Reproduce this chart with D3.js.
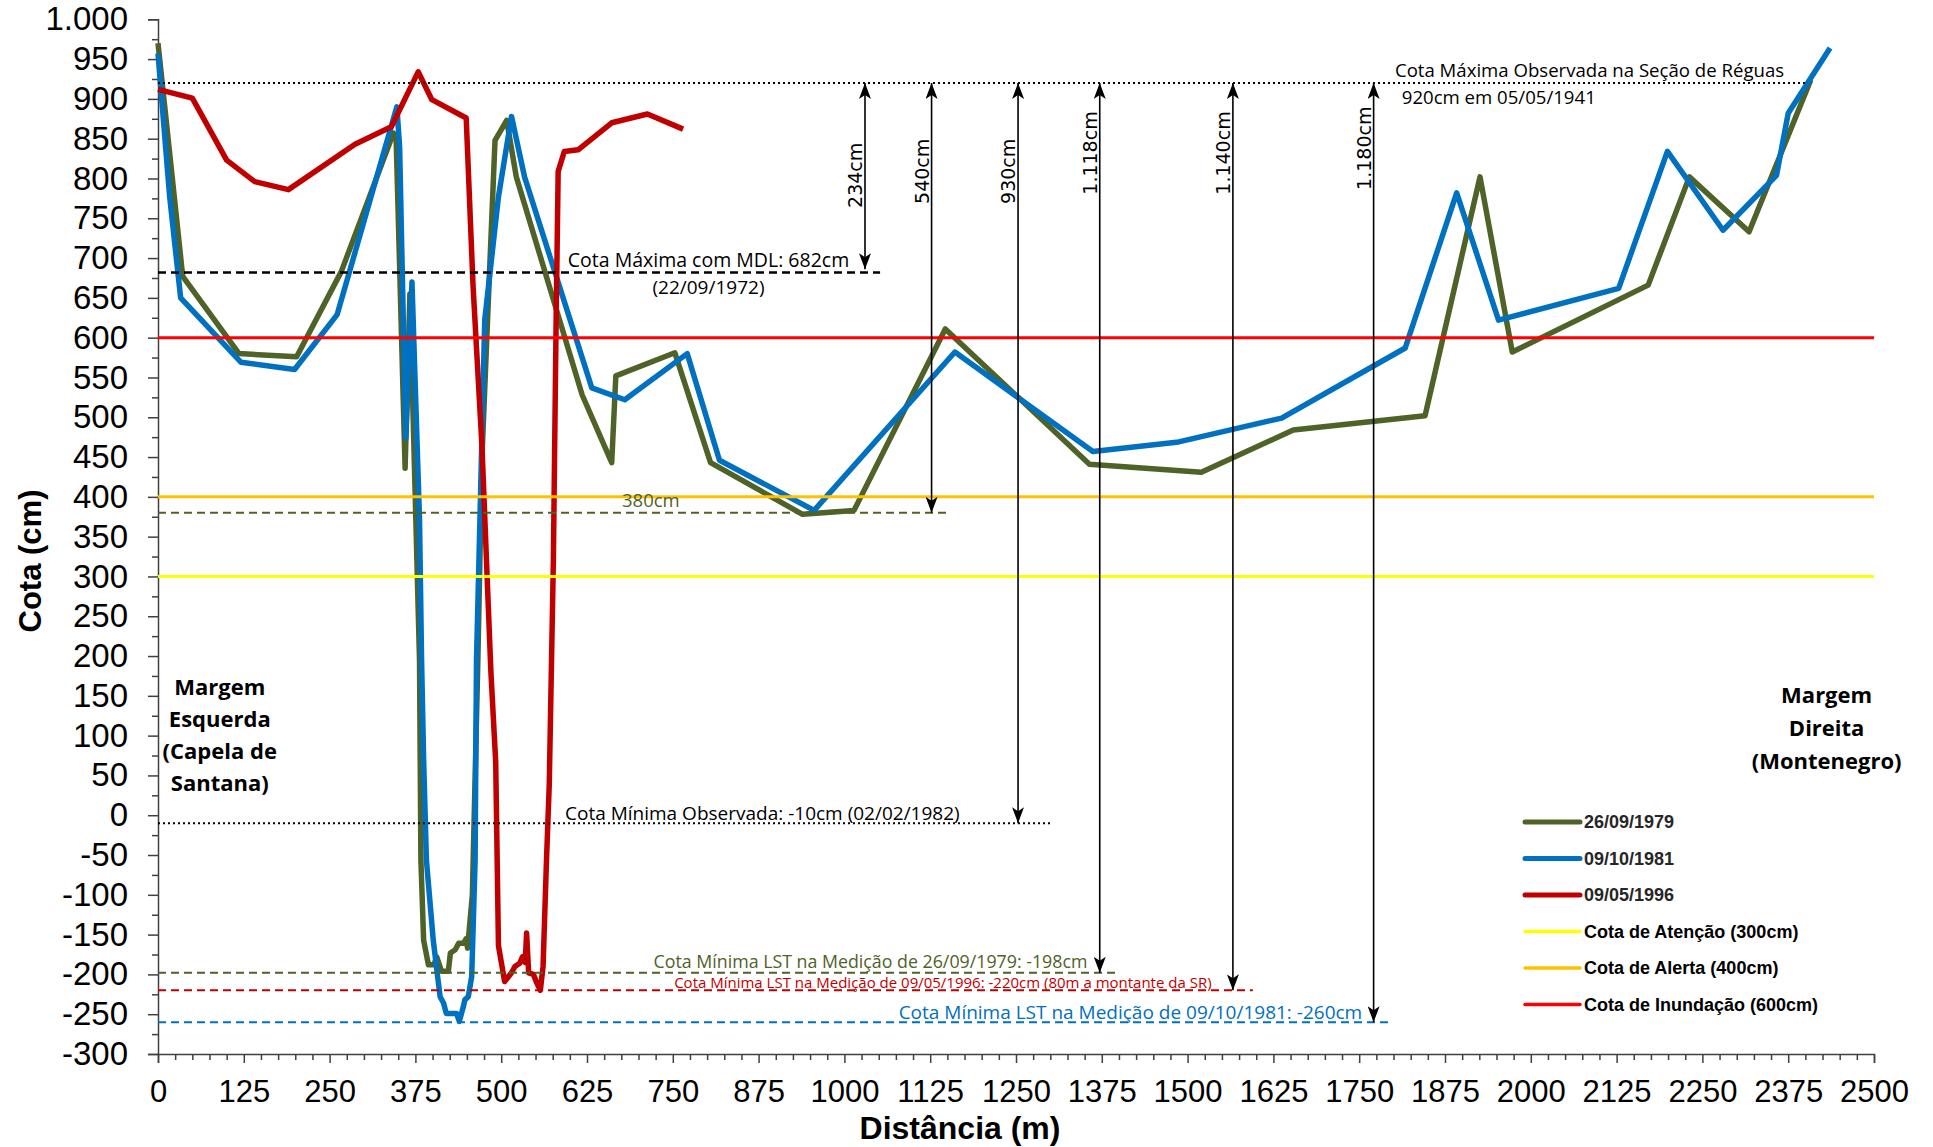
<!DOCTYPE html>
<html>
<head>
<meta charset="utf-8">
<script src="https://cdn.jsdelivr.net/npm/d3@7"></script>
<style>
  body { margin: 0; background: #fff; }
  svg { display: block; }
</style>
</head>
<body>
<div id="chart"></div>
<script>
// perfis transversais: [distância (m), cota (cm)]
const perfil1979 = [[0,970],[36,677],[118,580],[202,576],[267,683],[343,857],[347,848],[360,436],[367,655],[381,195],[383,-56],[387,-157],[394,-188],[402,-188],[406,-178],[413,-196],[423,-196],[426,-173],[433,-169],[438,-161],[445,-161],[449,-155],[451,-167],[458,-100],[466,195],[472,450],[480,620],[491,848],[508,873],[522,802],[618,528],[661,443],[667,552],[753,581],[805,443],[939,378],[1014,383],[1147,611],[1357,441],[1520,431],[1654,484],[1846,502],[1926,802],[1973,582],[2171,666],[2231,802],[2318,733],[2408,924]];
const perfil1981 = [[0,957],[17,777],[33,650],[121,569],[199,560],[261,629],[348,890],[352,840],[361,474],[370,670],[381,371],[384,195],[387,70],[391,-56],[401,-157],[408,-207],[411,-228],[416,-236],[420,-249],[435,-249],[439,-259],[445,-240],[447,-232],[452,-228],[457,-203],[462,-56],[464,195],[469,371],[476,622],[496,777],[515,878],[534,802],[632,537],[680,522],[771,580],[818,446],[956,383],[1161,582],[1362,457],[1487,469],[1637,499],[1817,587],[1892,782],[1953,622],[2128,662],[2199,834],[2280,735],[2358,804],[2375,882],[2436,964]];
const perfil1996 = [[0,912],[50,901],[100,823],[141,796],[190,786],[287,843],[340,865],[379,934],[399,899],[449,876],[459,665],[472,463],[485,180],[492,67],[496,-164],[505,-209],[515,-198],[520,-190],[527,-186],[531,-178],[535,-185],[537,-148],[540,-198],[547,-200],[552,-211],[557,-220],[561,-190],[566,-56],[570,38],[576,320],[580,620],[583,809],[592,834],[612,836],[661,870],[713,881],[765,862]];

const serieNomes = ["26/09/1979", "09/10/1981", "09/05/1996"];
const serieCores = ["#4f6228", "#0070c0", "#c00000"];

const cotaNomes = ["Cota de Atenção (300cm)", "Cota de Alerta (400cm)", "Cota de Inundação (600cm)"];
const cotaValores = [300, 400, 600];
const cotaCores = ["#ffff00", "#ffc000", "#ff0000"];

// linhas de referência: cota, até onde vai (m)
const refCotas = [920, 682, 380, -10, -198, -220, -260];
const refFim = [2400, 1052, 1152, 1302, 1400, 1595, 1796];

// setas: distância (m), cota de chegada, texto
const setaDist = [1030, 1127, 1253, 1372, 1566, 1771];
const setaAte = [686, 380, -10, -198, -220, -260];
const setaTextos = ["234cm", "540cm", "930cm", "1.118cm", "1.140cm", "1.180cm"];
const setaTextoCota = [804, 809, 809, 832, 832, 838];

const width = 1933, height = 1147,
      margin = ({ top: 19.3, right: 59, bottom: 93, left: 158 });

const svg = d3.select("#chart")
  .append("svg")
  .attr("width", width)
  .attr("height", height)
  .attr("viewBox", [0, 0, width, height]);

let x = d3.scaleLinear()
  .domain([0, 2500])
  .range([margin.left, width - margin.right]);

let y = d3.scaleLinear()
  .domain([-300, 1000])
  .range([height - margin.bottom, margin.top]);

const ptBR = d3.formatLocale({ decimal: ",", thousands: ".", grouping: [3], currency: ["", ""], minus: "-" });

const tickFont = "'Liberation Sans', Arial, sans-serif";
const noteFont = "'Open Sans', 'Noto Sans', sans-serif";

// eixo y (ticks maiores e menores)
svg.append("g")
  .attr("transform", `translate(${margin.left},0)`)
  .call(d3.axisLeft(y)
    .tickValues(d3.range(-275, 1000, 50))
    .tickSize(6)
    .tickFormat(""))
  .call(g => g.select(".domain").remove());

const yAxis = svg.append("g")
  .attr("transform", `translate(${margin.left},0)`)
  .call(d3.axisLeft(y)
    .tickValues(d3.range(-300, 1001, 50))
    .tickSize(10)
    .tickPadding(20)
    .tickFormat(ptBR.format(",d")));
yAxis.selectAll("text").attr("font-size", 33);

// eixo x
svg.append("g")
  .attr("transform", `translate(0,${height - margin.bottom})`)
  .call(d3.axisBottom(x)
    .tickValues(d3.range(25, 2500, 25).filter(d => d % 125 !== 0))
    .tickSize(6)
    .tickFormat(""))
  .call(g => g.select(".domain").remove());

const xAxis = svg.append("g")
  .attr("transform", `translate(0,${height - margin.bottom})`)
  .call(d3.axisBottom(x)
    .tickValues(d3.range(0, 2501, 125))
    .tickSize(9)
    .tickPadding(17)
    .tickFormat(d3.format("d")));
xAxis.selectAll("text").attr("font-size", 31);

svg.selectAll(".tick line, .domain").attr("stroke", "#404040").attr("stroke-width", 1.5);
svg.selectAll(".tick text")
  .attr("font-family", tickFont)
  .attr("fill", "#000");

// títulos dos eixos
svg.append("text")
  .attr("transform", `translate(41,561) rotate(-90)`)
  .attr("text-anchor", "middle")
  .attr("font-family", tickFont)
  .attr("font-weight", "bold")
  .attr("font-size", 31)
  .text("Cota (cm)");

svg.append("text")
  .attr("x", 960)
  .attr("y", 1139)
  .attr("text-anchor", "middle")
  .attr("font-family", tickFont)
  .attr("font-weight", "bold")
  .attr("font-size", 32)
  .text("Distância (m)");

// perfis
let line = d3.line()
  .x(d => x(d[0]))
  .y(d => y(d[1]));

[perfil1979, perfil1981, perfil1996].forEach((p, i) => {
  svg.append("path")
    .datum(p)
    .attr("fill", "none")
    .attr("stroke", serieCores[i])
    .attr("stroke-width", 5.5)
    .attr("stroke-linejoin", "round")
    .attr("d", line);
});

// cotas de atenção / alerta / inundação
cotaValores.forEach((v, i) => {
  svg.append("line")
    .attr("x1", x(0)).attr("x2", x(2500))
    .attr("y1", y(v)).attr("y2", y(v))
    .attr("stroke", cotaCores[i])
    .attr("stroke-width", 3);
});

// linhas de referência
const refEstilo = [
  { cor: "#000", dash: "2,3", w: 2 },
  { cor: "#000", dash: "8,5", w: 2.5 },
  { cor: "#4f6228", dash: "8,5", w: 2 },
  { cor: "#000", dash: "2,3", w: 2 },
  { cor: "#4f6228", dash: "8,5", w: 2 },
  { cor: "#c00000", dash: "8,5", w: 2 },
  { cor: "#0070c0", dash: "8,5", w: 2 }
];
refCotas.forEach((v, i) => {
  svg.append("line")
    .attr("x1", x(0)).attr("x2", x(refFim[i]))
    .attr("y1", y(v)).attr("y2", y(v))
    .attr("stroke", refEstilo[i].cor)
    .attr("stroke-width", refEstilo[i].w)
    .attr("stroke-dasharray", refEstilo[i].dash);
});

// setas
svg.append("defs").append("marker")
  .attr("id", "seta")
  .attr("viewBox", "0 0 16 12")
  .attr("refX", 16).attr("refY", 6)
  .attr("markerWidth", 16).attr("markerHeight", 12)
  .attr("markerUnits", "userSpaceOnUse")
  .attr("orient", "auto-start-reverse")
  .append("path")
  .attr("d", "M0,0 L16,6 L0,12 L4,6 Z")
  .attr("fill", "#000");

setaDist.forEach((d, i) => {
  svg.append("line")
    .attr("x1", x(d)).attr("x2", x(d))
    .attr("y1", y(920)).attr("y2", y(setaAte[i]))
    .attr("stroke", "#000")
    .attr("stroke-width", 1.6)
    .attr("marker-start", "url(#seta)")
    .attr("marker-end", "url(#seta)");
  svg.append("text")
    .attr("transform", `translate(${x(d) - 3},${y(setaTextoCota[i])}) rotate(-90)`)
    .attr("text-anchor", "middle")
    .attr("font-family", "'DejaVu Sans', Verdana, sans-serif")
    .attr("font-size", 19)
    .text(setaTextos[i]);
});

// anotações
function nota(txt, xv, yv, dy, anchor, cor, size) {
  svg.append("text")
    .attr("x", x(xv))
    .attr("y", y(yv) + dy)
    .attr("text-anchor", anchor)
    .attr("font-family", noteFont)
    .attr("font-size", size)
    .attr("fill", cor)
    .text(txt);
}

nota("Cota Máxima Observada na Seção de Réguas", 2369, 920, -6, "end", "#000", 18.6);
nota("920cm em 05/05/1941", 1812, 920, 21, "start", "#000", 18.6);
nota("Cota Máxima com MDL: 682cm", 802, 682, -5, "middle", "#000", 19.5);
nota("(22/09/1972)", 802, 682, 22, "middle", "#000", 19);
nota("380cm", 676, 380, -6, "start", "#4f6228", 18.5);
nota("Cota Mínima Observada: -10cm (02/02/1982)", 593, -10, -3, "start", "#000", 19);
nota("Cota Mínima LST na Medição de 26/09/1979: -198cm", 722, -198, -5, "start", "#4f6228", 17.8);
nota("Cota Mínima LST na Medição de 09/05/1996: -220cm (80m a montante da SR)", 752, -220, -2, "start", "#c00000", 15);
nota("Cota Mínima LST na Medição de 09/10/1981: -260cm", 1079, -260, -3, "start", "#0070c0", 19);

// margens
function margem(linhas, xv, y0, passo) {
  const t = svg.append("text")
    .attr("text-anchor", "middle")
    .attr("font-family", noteFont)
    .attr("font-weight", "bold")
    .attr("font-size", 22)
    .attr("fill", "#000");
  linhas.forEach((l, i) => {
    t.append("tspan").attr("x", x(xv)).attr("y", y0 + i * passo).text(l);
  });
}
margem(["Margem", "Esquerda", "(Capela de", "Santana)"], 90, 695, 32);
margem(["Margem", "Direita", "(Montenegro)"], 2431, 703, 33);

// legenda
const legNomes = serieNomes.concat(cotaNomes);
const legCores = serieCores.concat(cotaCores);
const legenda = svg.append("g").attr("transform", "translate(1525,822)");
legNomes.forEach((n, i) => {
  const g = legenda.append("g").attr("transform", `translate(0,${i * 36.5})`);
  g.append("line")
    .attr("x1", 0).attr("x2", 55)
    .attr("stroke", legCores[i])
    .attr("stroke-width", i < 3 ? 5 : 3.5)
    .attr("stroke-linecap", "round");
  g.append("text")
    .attr("x", 59)
    .attr("dy", "0.35em")
    .attr("font-family", tickFont)
    .attr("font-weight", "bold")
    .attr("font-size", 18)
    .attr("fill", i < 3 ? "#262626" : "#000")
    .text(n);
});
</script>
</body>
</html>
